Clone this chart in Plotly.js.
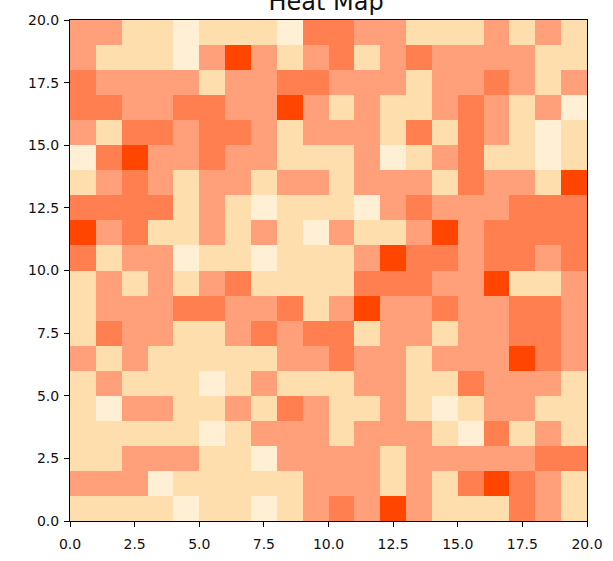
<!DOCTYPE html>
<html>
<head>
<meta charset="utf-8">
<script src="https://cdn.plot.ly/plotly-3.0.1.min.js"></script>
<style>html,body{margin:0;padding:0;background:#fff;}#chart{width:613px;height:561px;}</style>
</head>
<body>
<div id="chart"></div>
<script>
// Cell levels, listed top row (y = 19.5) first, left to right (x = 0.5 .. 19.5)
// 0 = lightest cream, 1 = wheat, 2 = salmon, 3 = coral, 4 = orange-red
const rowsTopDown = [
  [2,2,1,1,0,1,1,1,0,3,3,2,2,1,1,1,2,1,2,1],
  [2,1,1,1,0,2,4,2,1,2,3,1,2,3,2,2,2,2,1,1],
  [3,2,2,2,2,1,2,2,3,3,2,2,2,1,2,2,3,2,1,2],
  [3,3,2,2,3,3,2,2,4,2,1,2,1,1,2,3,2,1,2,0],
  [2,1,3,3,2,3,3,2,1,2,2,2,1,3,1,3,2,1,0,1],
  [0,3,4,2,2,3,2,2,1,1,1,2,0,1,2,3,1,1,0,1],
  [1,2,3,2,1,2,2,1,2,2,1,2,2,2,1,3,2,2,1,4],
  [3,3,3,3,1,2,1,0,1,1,1,0,2,3,2,2,2,3,3,3],
  [4,2,3,1,1,2,1,2,1,0,2,1,1,2,4,2,3,3,3,3],
  [3,1,2,2,0,1,1,0,1,1,1,2,4,3,3,2,3,3,2,3],
  [1,2,1,2,1,2,3,1,1,1,1,3,3,3,2,2,4,1,1,2],
  [1,2,2,2,3,3,2,2,3,1,2,4,2,2,3,2,2,3,3,2],
  [1,3,2,2,1,1,2,3,2,3,3,1,2,2,1,2,2,3,3,2],
  [2,1,2,1,1,1,1,1,2,2,3,2,2,1,2,2,2,4,3,2],
  [1,2,1,1,1,0,1,2,1,1,1,2,2,1,1,3,2,2,2,1],
  [1,0,2,2,1,1,2,1,3,2,1,1,2,1,0,1,2,2,1,1],
  [1,1,1,1,1,0,1,2,2,2,1,2,2,2,1,0,3,1,2,1],
  [1,1,2,2,2,1,1,0,2,2,2,2,1,2,2,2,2,2,3,3],
  [2,2,2,0,1,1,1,1,1,2,2,2,1,2,1,3,4,3,2,1],
  [1,1,1,1,0,1,1,0,1,2,3,2,4,2,1,1,1,3,2,1]
];
const xCenters = [0.5,1.5,2.5,3.5,4.5,5.5,6.5,7.5,8.5,9.5,10.5,11.5,12.5,13.5,14.5,15.5,16.5,17.5,18.5,19.5];
const yCenters = [0.5,1.5,2.5,3.5,4.5,5.5,6.5,7.5,8.5,9.5,10.5,11.5,12.5,13.5,14.5,15.5,16.5,17.5,18.5,19.5];
const tickValues = [0, 2.5, 5, 7.5, 10, 12.5, 15, 17.5, 20];
const tickLabels = ["0.0","2.5","5.0","7.5","10.0","12.5","15.0","17.5","20.0"];
const levelColors = ["#FFEFD5","#FFDEAD","#FFA07A","#FF7F50","#FF4500"];

const zBottomUp = rowsTopDown.slice().reverse();
const colorscale = levelColors.map((c, i) => [i / (levelColors.length - 1), c]);

const trace = {
  type: 'heatmap',
  x: xCenters,
  y: yCenters,
  z: zBottomUp,
  zmin: 0,
  zmax: 4,
  colorscale: colorscale,
  showscale: false,
  hoverinfo: 'skip'
};

const axisCommon = {
  range: [0, 20],
  tickmode: 'array',
  tickvals: tickValues,
  ticktext: tickLabels,
  ticks: 'outside',
  ticklen: 5,
  tickwidth: 1,
  tickcolor: '#000',
  showline: true,
  linecolor: '#000',
  linewidth: 1,
  mirror: true,
  showgrid: false,
  zeroline: false,
  tickfont: {family: 'DejaVu Sans', size: 14, color: '#111'}
};

const layout = {
  width: 613,
  height: 561,
  margin: {l: 70, r: 26, t: 20, b: 40, pad: 0},
  paper_bgcolor: '#fff',
  plot_bgcolor: '#fff',
  title: {
    text: 'Heat Map',
    font: {family: 'DejaVu Sans', size: 24, color: '#111'},
    x: 0.532, xref: 'container', xanchor: 'center',
    y: 0.998, yref: 'container', yanchor: 'middle'
  },
  xaxis: Object.assign({}, axisCommon, {ticklabelstandoff: 5}),
  yaxis: Object.assign({}, axisCommon, {ticklabelstandoff: 2})
};

Plotly.newPlot('chart', [trace], layout, {staticPlot: true, displayModeBar: false});
</script>
</body>
</html>
